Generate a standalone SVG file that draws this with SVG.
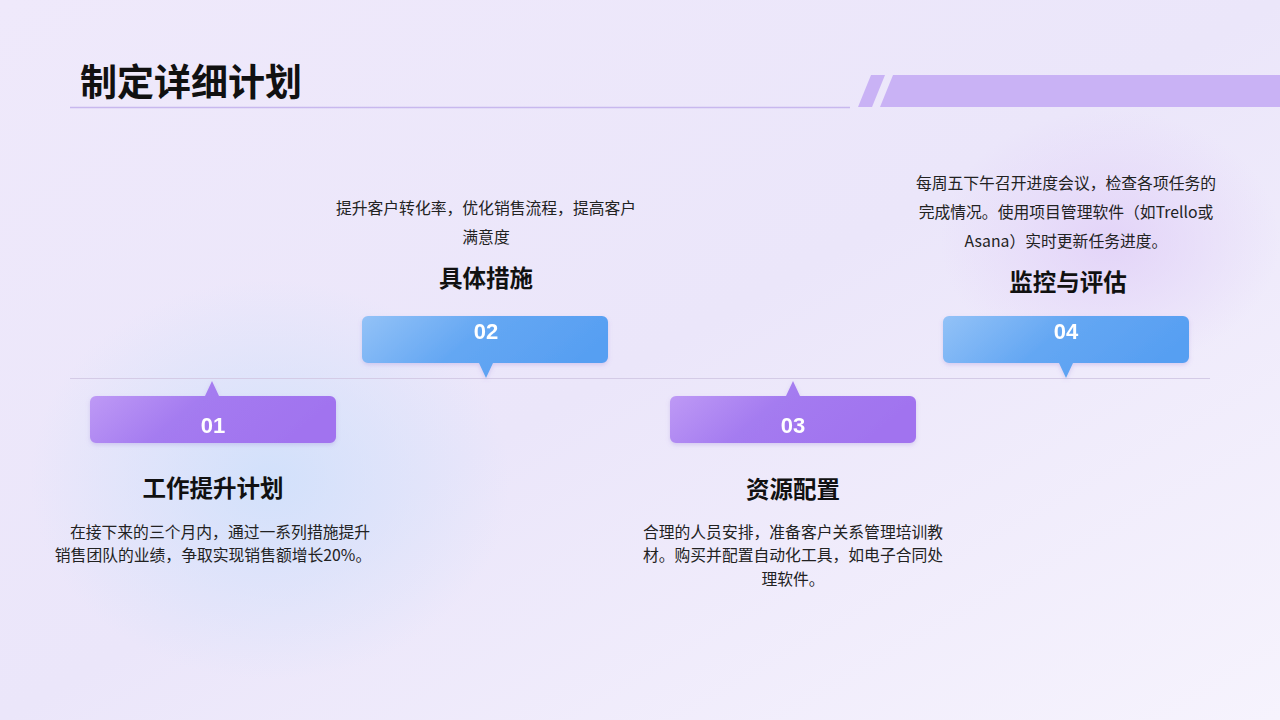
<svg xmlns="http://www.w3.org/2000/svg" width="1280" height="720" viewBox="0 0 1280 720">
<defs>
<linearGradient id="bg" x1="0" y1="0" x2="1" y2="1"><stop offset="0" stop-color="#efe9fb"/><stop offset="0.5" stop-color="#ebe6fa"/><stop offset="1" stop-color="#f6f3fd"/></linearGradient>
<radialGradient id="blob1" cx="0.5" cy="0.5" r="0.5"><stop offset="0" stop-color="#cfe0fb" stop-opacity="0.9"/><stop offset="1" stop-color="#cfe0fb" stop-opacity="0"/></radialGradient>
<radialGradient id="blob2" cx="0.5" cy="0.5" r="0.5"><stop offset="0" stop-color="#e2d2f8" stop-opacity="0.9"/><stop offset="1" stop-color="#e2d2f8" stop-opacity="0"/></radialGradient>
<linearGradient id="pur" x1="0" y1="0" x2="1" y2="0.3"><stop offset="0" stop-color="#c29ef6"/><stop offset="0.5" stop-color="#a47bf0"/><stop offset="1" stop-color="#a173ef"/></linearGradient>
<linearGradient id="blu" x1="0" y1="0" x2="1" y2="0.3"><stop offset="0" stop-color="#93c2f7"/><stop offset="0.5" stop-color="#64a7f3"/><stop offset="1" stop-color="#579ff2"/></linearGradient>
<filter id="sh" x="-10%" y="-20%" width="120%" height="150%"><feDropShadow dx="0" dy="2" stdDeviation="2" flood-color="#8a70d0" flood-opacity="0.25"/></filter>
</defs>
<style>
.num{font-family:"Liberation Sans",Arial,sans-serif;font-weight:bold;font-size:22px;fill:#fff;text-anchor:middle}
.h{font-family:"Noto Sans CJK SC",sans-serif;font-weight:bold;font-size:23.5px;fill:#111;text-anchor:middle}
.d{font-family:"Noto Sans CJK SC",sans-serif;font-size:15.8px;fill:#222;text-anchor:middle}
</style>
<rect width="1280" height="720" fill="url(#bg)"/>
<ellipse cx="270" cy="480" rx="240" ry="200" fill="url(#blob1)"/>
<ellipse cx="1110" cy="240" rx="170" ry="130" fill="url(#blob2)"/>
<text x="80" y="96" font-family="Noto Sans CJK SC,sans-serif" font-weight="bold" font-size="37" fill="#111">制定详细计划</text>
<line x1="70" y1="107.5" x2="850" y2="107.5" stroke="#c8b8ee" stroke-width="1.5"/>
<polygon points="871,75 885,75 872,107 858,107" fill="#c9b2f5"/>
<polygon points="893,75 1280,75 1280,107 880,107" fill="#c9b2f5"/>
<g id="connectors"><line x1="70" y1="378.5" x2="1210" y2="378.5" stroke="#d4cbe6" stroke-width="1.2"/></g>
<g id="n1" filter="url(#sh)"><path d="M96,396 H205 L212,381 L219,396 H330 a6,6 0 0 1 6,6 V437 a6,6 0 0 1 -6,6 H96 a6,6 0 0 1 -6,-6 V402 a6,6 0 0 1 6,-6Z" fill="url(#pur)"/><text class="num" x="213" y="433">01</text></g>
<g id="n2" filter="url(#sh)"><path d="M368,316 H602 a6,6 0 0 1 6,6 V357 a6,6 0 0 1 -6,6 H493 L486,378 L479,363 H368 a6,6 0 0 1 -6,-6 V322 a6,6 0 0 1 6,-6Z" fill="url(#blu)"/><text class="num" x="486" y="339">02</text></g>
<g id="n3" filter="url(#sh)"><path d="M676,396 H786 L793,381 L800,396 H910 a6,6 0 0 1 6,6 V437 a6,6 0 0 1 -6,6 H676 a6,6 0 0 1 -6,-6 V402 a6,6 0 0 1 6,-6Z" fill="url(#pur)"/><text class="num" x="793" y="433">03</text></g>
<g id="n4" filter="url(#sh)"><path d="M949,316 H1183 a6,6 0 0 1 6,6 V357 a6,6 0 0 1 -6,6 H1073 L1066,378 L1059,363 H949 a6,6 0 0 1 -6,-6 V322 a6,6 0 0 1 6,-6Z" fill="url(#blu)"/><text class="num" x="1066" y="339">04</text></g>
<g id="t1"><text class="h" x="213" y="497">工作提升计划</text><text class="d" x="220" y="538">在接下来的三个月内，通过一系列措施提升</text><text class="d" x="213" y="561">销售团队的业绩，争取实现销售额增长20%。</text></g>
<g id="t2"><text class="h" x="486" y="287">具体措施</text><text class="d" x="486" y="214">提升客户转化率，优化销售流程，提高客户</text><text class="d" x="486" y="243">满意度</text></g>
<g id="t3"><text class="h" x="793" y="498">资源配置</text><text class="d" x="793" y="538">合理的人员安排，准备客户关系管理培训教</text><text class="d" x="793" y="561">材。购买并配置自动化工具，如电子合同处</text><text class="d" x="793" y="585">理软件。</text></g>
<g id="t4"><text class="h" x="1068" y="291">监控与评估</text><text class="d" x="1066" y="189">每周五下午召开进度会议，检查各项任务的</text><text class="d" x="1066" y="218">完成情况。使用项目管理软件（如Trello或</text><text class="d" x="1066" y="247">Asana）实时更新任务进度。</text></g>
</svg>
